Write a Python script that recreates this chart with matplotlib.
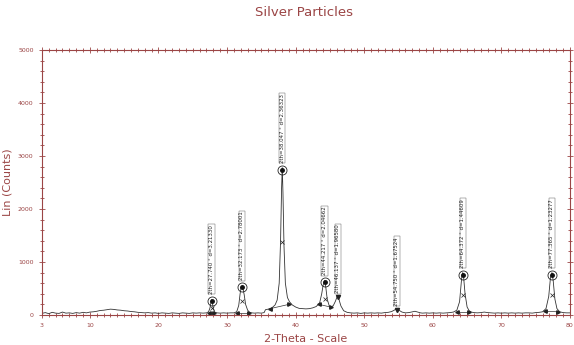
import matplotlib
matplotlib.use("Agg")
import matplotlib.pyplot as plt
from matplotlib.ticker import MultipleLocator, FixedLocator

# XRD trace (2-theta, counts)
two_theta = [3.0, 3.5, 4.0, 4.5, 5.0, 5.5, 6.0, 6.5, 7.0, 7.5, 8.0, 8.5, 9.0, 9.5,
             10.0, 10.5, 11.0, 11.5, 12.0, 12.5, 13.0, 13.5, 14.0, 14.5, 15.0, 15.5,
             16.0, 16.5, 17.0, 17.5, 18.0, 18.5, 19.0, 19.5, 20.0, 20.5, 21.0, 21.5,
             22.0, 22.5, 23.0, 23.5, 24.0, 24.5, 25.0, 25.5, 26.0, 26.5, 27.0, 27.3,
             27.5, 27.65, 27.74, 27.85, 28.0, 28.2, 28.5, 29.0, 29.5, 30.0, 30.5, 31.0,
             31.4, 31.7, 31.9, 32.05, 32.17, 32.3, 32.5, 32.7, 33.0, 33.3, 33.6, 34.0,
             34.5, 35.0, 35.4, 35.6, 36.0, 36.5, 37.0, 37.3, 37.6, 37.8, 37.95, 38.05,
             38.15, 38.3, 38.5, 38.8, 39.1, 39.5, 40.0, 40.5, 41.0, 41.5, 42.0, 42.5,
             43.0, 43.5, 43.8, 44.0, 44.22, 44.4, 44.6, 44.9, 45.2, 45.5, 45.8, 46.0,
             46.14, 46.3, 46.6, 47.0, 47.5, 48.0, 48.5, 49.0, 49.5, 50.0, 50.5, 51.0,
             51.5, 52.0, 52.5, 53.0, 53.5, 54.0, 54.5, 54.75, 55.0, 55.5, 56.0, 56.5,
             57.0, 57.4, 57.8, 58.2, 58.5, 59.0, 59.5, 60.0, 60.5, 61.0, 61.5, 62.0,
             62.5, 63.0, 63.5, 63.9, 64.1, 64.25, 64.37, 64.5, 64.7, 65.0, 65.3, 65.6,
             66.0, 66.5, 67.0, 67.5, 68.0, 68.5, 69.0, 69.5, 70.0, 70.5, 71.0, 71.5,
             72.0, 72.5, 73.0, 73.5, 74.0, 74.5, 75.0, 75.5, 76.0, 76.5, 76.9, 77.15,
             77.37, 77.55, 77.8, 78.1, 78.5, 79.0, 79.5, 80.0]
counts = [30, 45, 25, 50, 35, 30, 55, 35, 40, 30, 45, 35, 50, 40,
          55, 60, 70, 85, 90, 100, 110, 105, 95, 90, 80, 75,
          65, 60, 50, 45, 40, 45, 35, 40, 30, 40, 35, 30,
          40, 35, 30, 40, 35, 30, 40, 35, 40, 35, 40, 60,
          130, 240, 290, 230, 120, 55, 40, 35, 40, 35, 40, 40,
          60, 180, 400, 520, 545, 510, 380, 200, 90, 50, 40, 35,
          40, 35, 45, 100, 110, 130, 190, 280, 600, 1400, 2400, 2780,
          2300, 1300, 600, 330, 250, 190, 150, 125, 120, 115, 120, 135,
          160, 230, 400, 560, 650, 520, 300, 170, 150, 180, 260, 330,
          350, 300, 170, 80, 50, 40, 35, 40, 30, 40, 35, 40,
          35, 40, 35, 45, 50, 65, 100, 110, 95, 55, 40, 45,
          60, 70, 55, 40, 35, 40, 35, 40, 35, 40, 35, 40,
          45, 55, 90, 250, 550, 760, 800, 700, 400, 150, 80, 55,
          45, 40, 45, 55, 45, 40, 35, 40, 35, 40, 35, 40,
          35, 40, 35, 40, 40, 35, 45, 50, 60, 120, 350, 700,
          800, 650, 300, 120, 60, 45, 40, 40]

# identified peaks
peak_pos = [27.74, 32.173, 38.047, 44.217, 46.137, 54.750, 64.372, 77.365]
peak_cnt = [270, 530, 2740, 620, 330, 100, 760, 760]
peak_d = [3.21330, 2.78001, 2.36323, 2.04662, 1.96580, 1.67524, 1.44609, 1.23277]
peak_circled = [True, True, True, True, False, False, True, True]

# integration baselines (left x, left y, right x, right y)
base_left = [(27.4, 45), (31.5, 45), (36.3, 120), (43.4, 200), (63.5, 60), (76.4, 70)]
base_right = [(28.1, 45), (33.2, 45), (39.0, 200), (45.1, 150), (65.3, 60), (78.3, 60)]

red = "#9b4545"
fig = plt.figure(figsize=(5.74, 3.45), dpi=100)
ax = fig.add_axes([0.073, 0.087, 0.92, 0.768])

ax.plot(two_theta, counts, color="#333333", lw=0.6)

for (x0, y0), (x1, y1) in zip(base_left, base_right):
    ax.plot([x0, x1], [y0, y1], color="#333333", lw=0.5)
    ax.plot([x0], [y0], marker="<", ms=2.5, color="#222222")
    ax.plot([x1], [y1], marker=">", ms=2.5, color="#222222")

for x, y, d, circ in zip(peak_pos, peak_cnt, peak_d, peak_circled):
    if circ:
        ax.plot([x], [y], marker="o", ms=6.5, mfc="none", mec="#222222", mew=0.6)
        ax.plot([x], [y], marker="o", ms=2.5, color="#111111")
        ax.plot([x], [y * 0.5], marker="x", ms=2.5, color="#222222", mew=0.5)
        off = 5
    else:
        ax.plot([x], [y], marker="v", ms=3, color="#222222")
        off = 3
    ax.annotate(f"2th={x:.3f} ° d={d:.5f}", (x, y), xytext=(0, off),
                textcoords="offset points", rotation=90, ha="center", va="bottom",
                fontsize=3.9, color="#222222",
                bbox=dict(boxstyle="square,pad=0.12", fc="white", ec="#666666", lw=0.35))

ax.set_xlim(3, 80)
ax.set_ylim(0, 5000)
ax.xaxis.set_major_locator(FixedLocator([3, 10, 20, 30, 40, 50, 60, 70, 80]))
ax.xaxis.set_minor_locator(MultipleLocator(1))
ax.yaxis.set_major_locator(MultipleLocator(1000))
ax.yaxis.set_minor_locator(MultipleLocator(200))

for s in ax.spines.values():
    s.set_color(red)
    s.set_linewidth(0.8)
ax.tick_params(which="both", colors=red, labelcolor=red, labelsize=4.5,
               top=True, right=True, direction="inout", width=0.6)
ax.tick_params(which="major", length=5)
ax.tick_params(which="minor", length=3)

ax.set_xlabel("2-Theta - Scale", color=red, fontsize=8, labelpad=4)
ax.set_ylabel("Lin (Counts)", color=red, fontsize=8, labelpad=4)
fig.text(0.53, 0.965, "Silver Particles", color=red, fontsize=9.5, ha="center", va="center")

fig.savefig("out.png", dpi=100)
